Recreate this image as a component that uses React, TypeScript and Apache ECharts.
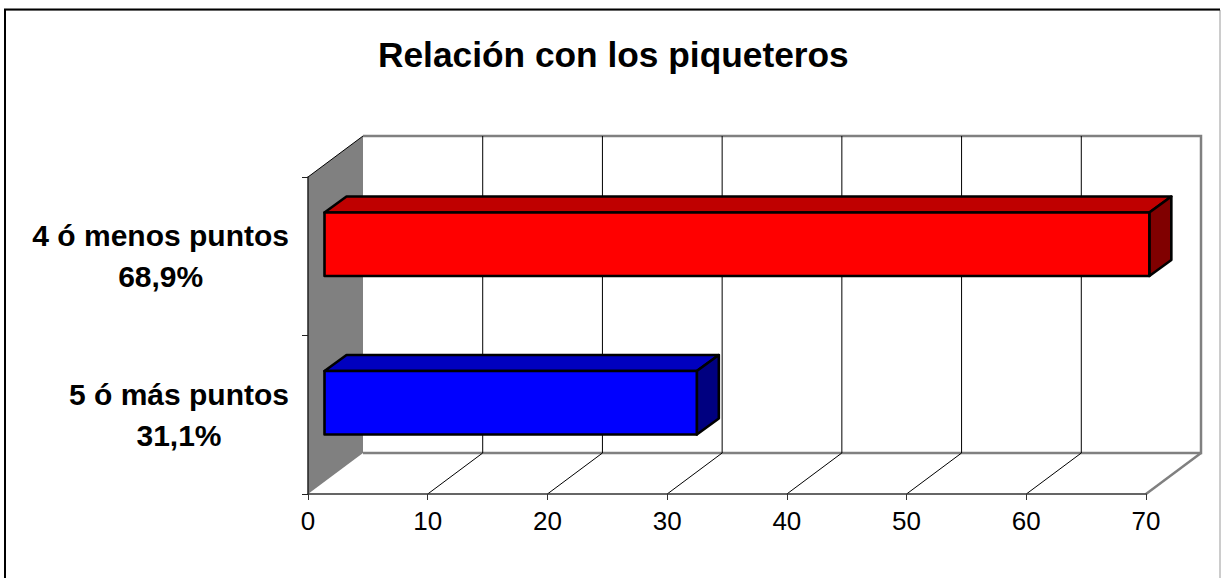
import React, { useEffect, useRef } from "react";
import * as echarts from "echarts";

const titleText = "Relación con los piqueteros";
const categories = ["5 ó más puntos", "4 ó menos puntos"];
const shareLabels = ["31,1%", "68,9%"];
const barValues = [31.1, 68.9];
const tickValues = [0, 10, 20, 30, 40, 50, 60, 70];
const faceColors = ["#0000FF", "#FF0000"];
const topColors = ["#0000BF", "#BF0000"];
const sideColors = ["#000080", "#800000"];

const WALL_DX = 55;
const WALL_DY = 41;
const BAR_GAP_DX = 16.5;
const BAR_GAP_DY = 12;
const BAR_DX = 22;
const BAR_DY = 16;
const FONT = "'Liberation Sans', Arial, sans-serif";

export default function App() {
  const ref = useRef<HTMLDivElement>(null);
  useEffect(() => {
    const chart = echarts.init(ref.current!, null, { renderer: "svg" });
    chart.setOption({
      animation: false,
      backgroundColor: "#ffffff",
      title: {
        text: titleText,
        left: 378,
        top: 37,
        padding: 0,
        textStyle: { fontFamily: FONT, fontSize: 35.3, fontWeight: "bold", color: "#000" },
      },
      graphic: [
        {
          type: "rect",
          silent: true,
          z: -1,
          shape: { x: 5, y: 10, width: 1215, height: 600 },
          style: { fill: "none", stroke: "#999", lineWidth: 1 },
        },
        {
          type: "polyline",
          silent: true,
          z: -1,
          shape: { points: [[5, 600], [5, 9.5], [1220, 9.5]] },
          style: { fill: "none", stroke: "#000", lineWidth: 2 },
        },
      ],
      grid: { left: 308, right: 75, top: 177, bottom: 84 },
      xAxis: {
        type: "value",
        min: 0,
        max: 70,
        interval: 10,
        z: 5,
        splitLine: { show: false },
        axisLine: { show: true, lineStyle: { color: "#333", width: 1.5 } },
        axisTick: { show: true, length: 6, lineStyle: { color: "#333", width: 1 } },
        axisLabel: { color: "#000", fontFamily: FONT, fontSize: 26, margin: 14 },
      },
      yAxis: {
        type: "category",
        data: categories,
        z: 5,
        axisLine: { show: true, lineStyle: { color: "#222", width: 1.5 } },
        axisTick: { show: true, length: 6, lineStyle: { color: "#222", width: 1 } },
        axisLabel: {
          margin: 19,
          formatter: (v: string) => {
            const i = categories.indexOf(v);
            return `{a|${v}}\n{a|${shareLabels[i]}}`;
          },
          rich: {
            a: {
              fontFamily: FONT,
              fontSize: 30,
              fontWeight: "bold",
              color: "#000",
              lineHeight: 41,
              align: "center",
            },
          },
        },
      },
      series: [
        {
          type: "custom",
          silent: true,
          data: [[0, 70]],
          z: 1,
          renderItem: (_p: any, api: any) => {
            const a = api.coord([api.value(0), 0]);
            const b = api.coord([api.value(1), 0]);
            const cs = _p.coordSys;
            const top = cs.y;
            const bottom = cs.y + cs.height;
            return {
              type: "group",
              children: [
                {
                  type: "polygon",
                  shape: {
                    points: [
                      [a[0], top],
                      [a[0] + WALL_DX, top - WALL_DY],
                      [a[0] + WALL_DX, bottom - WALL_DY],
                      [a[0], bottom],
                    ],
                  },
                  style: { fill: "#808080", stroke: "none" },
                },
                {
                  type: "line",
                  shape: { x1: a[0], y1: top, x2: a[0] + WALL_DX, y2: top - WALL_DY },
                  style: { stroke: "#000", lineWidth: 1 },
                },
                {
                  type: "polyline",
                  shape: {
                    points: [
                      [a[0] + WALL_DX, top - WALL_DY],
                      [b[0] + WALL_DX, top - WALL_DY],
                      [b[0] + WALL_DX, bottom - WALL_DY],
                      [a[0] + WALL_DX, bottom - WALL_DY],
                    ],
                  },
                  style: { fill: "none", stroke: "#808080", lineWidth: 2.5 },
                },
                {
                  type: "line",
                  shape: { x1: b[0], y1: bottom, x2: b[0] + WALL_DX, y2: bottom - WALL_DY },
                  style: { stroke: "#808080", lineWidth: 2.5 },
                },
              ],
            };
          },
        },
        {
          type: "custom",
          silent: true,
          data: tickValues.slice(1, -1).map((v) => [v]),
          z: 2,
          renderItem: (p: any, api: any) => {
            const a = api.coord([api.value(0), 0]);
            const cs = p.coordSys;
            const top = cs.y;
            const bottom = cs.y + cs.height;
            const x = a[0];
            return {
              type: "polyline",
              shape: {
                points: [
                  [x, bottom],
                  [x + WALL_DX, bottom - WALL_DY],
                  [x + WALL_DX, top - WALL_DY],
                ],
              },
              style: { fill: "none", stroke: "#000", lineWidth: 1 },
            };
          },
        },
        {
          type: "custom",
          silent: true,
          data: barValues.map((v, i) => [v, i]),
          z: 3,
          renderItem: (p: any, api: any) => {
            const i = api.value(1);
            const base = api.coord([0, i]);
            const end = api.coord([api.value(0), i]);
            const h = api.size([0, 1])[1] * 0.4;
            const x0 = base[0] + BAR_GAP_DX;
            const x1 = end[0] + BAR_GAP_DX;
            const y0 = base[1] - BAR_GAP_DY - h / 2;
            const y1 = y0 + h;
            const line = { stroke: "#000", lineWidth: 2.6, lineJoin: "round" };
            return {
              type: "group",
              children: [
                {
                  type: "polygon",
                  shape: {
                    points: [
                      [x0, y0],
                      [x0 + BAR_DX, y0 - BAR_DY],
                      [x1 + BAR_DX, y0 - BAR_DY],
                      [x1, y0],
                    ],
                  },
                  style: { fill: topColors[i], ...line },
                },
                {
                  type: "polygon",
                  shape: {
                    points: [
                      [x1, y0],
                      [x1 + BAR_DX, y0 - BAR_DY],
                      [x1 + BAR_DX, y1 - BAR_DY],
                      [x1, y1],
                    ],
                  },
                  style: { fill: sideColors[i], ...line },
                },
                {
                  type: "rect",
                  shape: { x: x0, y: y0, width: x1 - x0, height: h },
                  style: { fill: faceColors[i], ...line },
                },
              ],
            };
          },
        },
      ],
    });
    return () => chart.dispose();
  }, []);
  return (
    <div
      ref={ref}
      style={{ position: "absolute", left: 0, top: 0, width: 1221, height: 578 }}
    />
  );
}
